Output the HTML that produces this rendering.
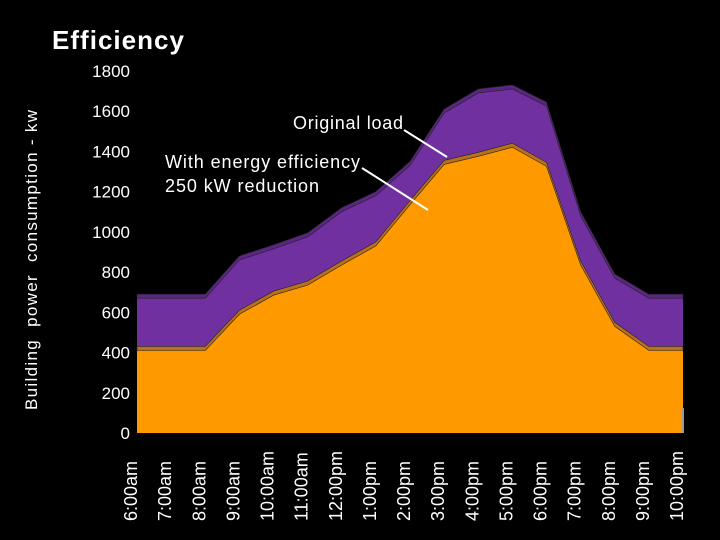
<!DOCTYPE html>
<html><head><meta charset="utf-8"><style>
body{margin:0;background:#000;}
svg{display:block;font-family:"Liberation Sans",sans-serif;}
</style></head><body>
<svg width="720" height="540" viewBox="0 0 720 540">
<text x="52" y="49" fill="#fff" font-size="26" font-weight="bold" textLength="132">Efficiency</text>
<text transform="translate(37,260) rotate(-90)" text-anchor="middle" fill="#fff" font-size="17" textLength="300" xml:space="preserve">Building  power  consumption - kw</text>
<g id="ticks"></g>
<g id="areas"></g>
<g id="xlabels"></g>
<rect x="682" y="408" width="2" height="25" fill="#999"/>
<text x="293" y="129" fill="#fff" font-size="18" textLength="110">Original load</text>
<line x1="404" y1="130" x2="447" y2="157" stroke="#fff" stroke-width="2"/>
<text x="165" y="168" fill="#fff" font-size="18" textLength="195">With energy efficiency</text>
<text x="165" y="192" fill="#fff" font-size="18" textLength="154">250 kW reduction</text>
<line x1="362" y1="168" x2="428" y2="210" stroke="#fff" stroke-width="2"/>
</svg>
<script>
const categories=["6:00am","7:00am","8:00am","9:00am","10:00am","11:00am","12:00pm","1:00pm","2:00pm","3:00pm","4:00pm","5:00pm","6:00pm","7:00pm","8:00pm","9:00pm","10:00pm"];
const originalLoad=[670,670,670,860,915,975,1100,1180,1330,1590,1690,1710,1625,1080,770,670,670];
const withEfficiency=[410,410,410,590,685,735,835,930,1135,1335,1375,1420,1325,835,530,410,410];
const yTicks=[0,200,400,600,800,1000,1200,1400,1600,1800];
const NS="http://www.w3.org/2000/svg";
const x0=137,x1=683,yBase=433,yScale=0.2012;
function xPos(i){return x0+(x1-x0)*i/(categories.length-1);}
function yPos(v){return yBase-v*yScale;}
function mk(t,a){const e=document.createElementNS(NS,t);for(const k in a)e.setAttribute(k,a[k]);return e;}
const tg=document.getElementById('ticks');
yTicks.forEach(v=>{const t=mk('text',{x:130,y:yPos(v)+6,'text-anchor':'end',fill:'#fff','font-size':17});


t.textContent=v;tg.appendChild(t);});
const ag=document.getElementById('areas');
function area(vals,front,band,name){
 let top=vals.map((v,i)=>xPos(i)+','+yPos(v));
 const poly=mk('polygon',{points:top.join(' ')+' '+x1+','+yBase+' '+x0+','+yBase,fill:front});
 
 
 ag.appendChild(poly);
 let up=vals.map((v,i)=>xPos(i)+','+(yPos(v)-4));
 const b=mk('polygon',{points:up.join(' ')+' '+top.slice().reverse().join(' '),fill:band,stroke:'#222','stroke-width':0.6});
 
 
 ag.appendChild(b);
}
area(originalLoad,'#7030a0','#5a2682','original-load');
area(withEfficiency,'#ff9900','#b8701a','with-efficiency');
const xg=document.getElementById('xlabels');
categories.forEach((c,i)=>{const t=mk('text',{transform:'translate('+(xPos(i)-6)+',521) rotate(-90)','text-anchor':'start',fill:'#fff','font-size':18,'dominant-baseline':'central'});


t.textContent=c;xg.appendChild(t);});
</script>
</body></html>
